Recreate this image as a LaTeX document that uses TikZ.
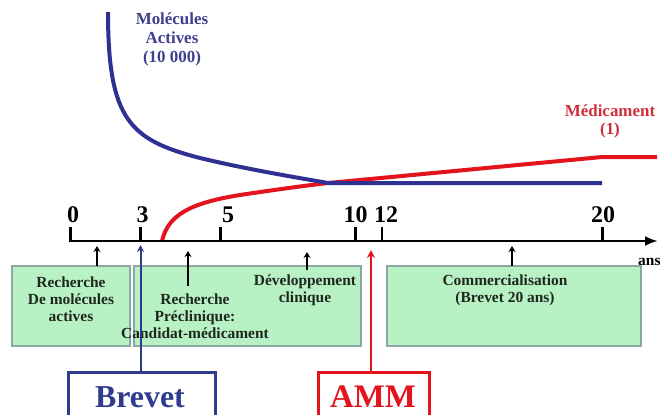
\documentclass[tikz,border=0pt]{standalone}
\usepackage{fontspec}
\setmainfont{Liberation Serif}
\usetikzlibrary{arrows.meta}
\definecolor{curveblue}{HTML}{2E3192}
\definecolor{labblue}{HTML}{3F3F8F}
\definecolor{curvered}{HTML}{E4141E}
\definecolor{labred}{HTML}{CF2E3A}
\definecolor{boxfill}{HTML}{B8F2C4}
\definecolor{boxline}{HTML}{8CA8A2}
\definecolor{boxtext}{HTML}{1E261E}
\definecolor{brevetblue}{HTML}{2F3C8E}
\tikzset{
  gbox/.style={draw=boxline, line width=2bp, fill=boxfill, inner sep=0pt},
  btext/.style={text=boxtext, font=\bfseries\fontsize{15.5}{17}\selectfont, align=center, inner sep=0pt},
  ticklab/.style={font=\bfseries\fontsize{24}{26}\selectfont, inner sep=0pt},
  smallarrow/.style={line width=2bp, -{Stealth[length=6bp,width=7bp]}},
  axisline/.style={line width=2.8bp, -{Latex[length=13bp,width=10bp]}},
  tickline/.style={line width=2.5bp},
  bigbox/.style={line width=3bp, fill=white, inner sep=0pt},
}
\begin{document}
\begin{tikzpicture}[x=1bp,y=-1bp]
\useasboundingbox (0,0) rectangle (664,414);

% curves
\draw[curvered, line width=4bp, line join=round]
  (162,241) .. controls (168,215) and (190,203) .. (240,195)
  .. controls (280,189) and (310,185) .. (328,183) -- (602,157) -- (657,157);
\draw[curveblue, line width=4bp, line join=round]
  (108,12) .. controls (108,120) and (130,140) .. (200,158)
  .. controls (250,170) and (300,178) .. (328,183) -- (602,183);

\node[text=labblue, font=\bfseries\fontsize{17}{19}\selectfont, align=center, inner sep=0pt] (mol) at (172,39) {Molécules\\Actives\\(10 000)};
\node[text=labred, font=\bfseries\fontsize{17}{18}\selectfont, align=center, inner sep=0pt] (med) at (610,121) {Médicament\\(1)};

% axis
\coordinate (a0) at (70,241);
\coordinate (aend) at (658,241);
\draw[axisline] (a0) -- (aend);
\foreach \x in {70.7,140.5,220.7,355.3,382,602.7}{
  \draw[tickline] (\x,227) -- (\x,242.4);
}
\node[ticklab] (t0) at (73,215) {0};
\node[ticklab] (t3) at (142.5,215) {3};
\node[ticklab] (t5) at (228,215) {5};
\node[ticklab] (t10) at (355.5,215) {10};
\node[ticklab] (t12) at (386,215) {12};
\node[ticklab] (t20) at (603,215) {20};
\node[font=\bfseries\fontsize{15.5}{17}\selectfont, anchor=west, inner sep=0pt] (ans) at (638,262) {ans};

% green boxes
\node[gbox, minimum width=118bp, minimum height=80bp] (box1) at (71,306) {};
\node[gbox, minimum width=227bp, minimum height=80bp] (box2) at (247.5,306) {};
\node[gbox, minimum width=254bp, minimum height=80bp] (box3) at (514,306) {};

\node[btext] (tx1) at (71,299) {Recherche\\De molécules\\actives};
\node[btext] (tx2) at (195,316) {Recherche\\Préclinique:\\Candidat-médicament};
\node[btext] (tx3) at (305,290.5) {Développement\\clinique};
\node[btext] (tx4) at (505,290.5) {Commercialisation\\(Brevet 20 ans)};

% small arrows
\coordinate (s1a) at (97,266); \coordinate (s1b) at (97,246);
\coordinate (s2a) at (188,286); \coordinate (s2b) at (188,251);
\coordinate (s3a) at (307,270); \coordinate (s3b) at (307,252);
\coordinate (s4a) at (512,266); \coordinate (s4b) at (512,246);
\draw[smallarrow] (s1a) -- (s1b);
\draw[smallarrow] (s2a) -- (s2b);
\draw[smallarrow] (s3a) -- (s3b);
\draw[smallarrow] (s4a) -- (s4b);

% Brevet and AMM
\node[bigbox, draw=brevetblue, minimum width=147bp, minimum height=68bp] (brevetbox) at (141.5,406) {};
\node[bigbox, draw=curvered, minimum width=111bp, minimum height=68bp] (ammbox) at (373.5,406) {};
\node[text=brevetblue, font=\bfseries\fontsize{32}{34}\selectfont, inner sep=0pt] (brevet) at (140,397) {Brevet};
\node[text=curvered, font=\bfseries\fontsize{33}{35}\selectfont, inner sep=0pt] (amm) at (373,397) {AMM};

\coordinate (btip) at (140.5,245);
\coordinate (atip) at (371,250);
\draw[brevetblue, line width=2bp, -{Stealth[length=7bp,width=7bp]}] (brevetbox.north -| btip) -- (btip);
\draw[curvered, line width=2.2bp, -{Stealth[length=8bp,width=8bp]}] (ammbox.north -| atip) -- (atip);
\end{tikzpicture}
\end{document}
